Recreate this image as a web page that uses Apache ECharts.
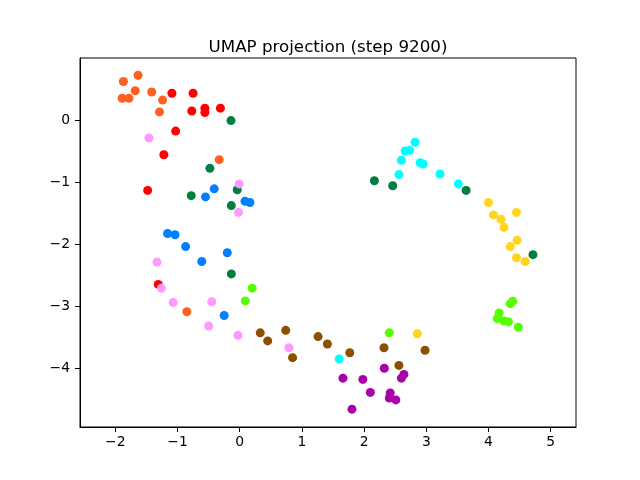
<!DOCTYPE html>
<html style="height: 100%">
<head>
    <meta charset="utf-8">
    <title>UMAP projection</title>
    <script src="https://cdn.jsdelivr.net/npm/echarts@6/dist/echarts.min.js"></script>
    <style>
        body{margin:0;background:#fff;}
        #container{width:640px;height:480px;}
    </style>
</head>
<body>
<div id="container"></div>
<script>
    // point groups, [x, y]
    var orangePts = [[-1.87,0.62],[-1.635,0.72],[-1.68,0.47],[-1.89,0.35],[-1.78,0.35],[-1.415,0.45],[-1.24,0.32],[-1.29,0.13],[-0.33,-0.64],[-0.85,-3.09]];
    var redPts = [[-1.09,0.43],[-0.75,0.43],[-0.77,0.145],[-0.56,0.19],[-0.56,0.12],[-0.31,0.19],[-1.03,-0.18],[-1.22,-0.56],[-1.48,-1.135],[-1.31,-2.65]];
    var cyanPts = [[1.60,-3.85],[2.82,-0.36],[2.66,-0.50],[2.73,-0.49],[2.60,-0.65],[2.90,-0.69],[2.95,-0.71],[2.56,-0.88],[3.22,-0.87],[3.515,-1.03]];
    var yellowPts = [[4.00,-1.33],[4.08,-1.53],[4.20,-1.60],[4.25,-1.73],[4.45,-1.49],[4.46,-1.94],[4.35,-2.04],[4.45,-2.22],[4.59,-2.28],[2.855,-3.445]];
    var bluePts = [[-0.41,-1.11],[-0.55,-1.24],[0.085,-1.31],[0.165,-1.33],[-1.16,-1.83],[-1.04,-1.85],[-0.87,-2.04],[-0.61,-2.28],[-0.20,-2.14],[-0.25,-3.15]];
    var limePts = [[0.20,-2.71],[0.09,-2.915],[2.405,-3.43],[4.39,-2.92],[4.35,-2.96],[4.17,-3.11],[4.14,-3.20],[4.25,-3.24],[4.32,-3.25],[4.48,-3.34]];
    var brownPts = [[0.33,-3.43],[0.45,-3.56],[0.74,-3.39],[0.85,-3.83],[1.26,-3.49],[1.41,-3.61],[1.77,-3.75],[2.32,-3.67],[2.56,-3.955],[2.98,-3.71]];
    var magentaPts = [[1.66,-4.16],[1.805,-4.66],[1.98,-4.18],[2.10,-4.39],[2.325,-4.00],[2.60,-4.16],[2.64,-4.10],[2.42,-4.40],[2.405,-4.48],[2.51,-4.51]];
    var greenPts = [[-0.14,-0.01],[-0.48,-0.78],[-0.78,-1.22],[-0.04,-1.125],[-0.135,-1.38],[-0.135,-2.48],[2.165,-0.98],[2.46,-1.06],[3.64,-1.135],[4.715,-2.17]];
    var pinkPts = [[-1.46,-0.29],[-0.01,-1.03],[-0.02,-1.49],[-1.33,-2.29],[-1.26,-2.71],[-1.07,-2.94],[-0.45,-2.93],[-0.50,-3.32],[-0.03,-3.47],[0.79,-3.67]];
    var xTicks = [-2,-1,0,1,2,3,4,5];
    var yTicks = [-4,-3,-2,-1,0];

    var groups = [
        [orangePts,'#ff6020'],[redPts,'#ff0000'],[cyanPts,'#00ffff'],[yellowPts,'#ffd520'],
        [bluePts,'#0080ff'],[limePts,'#55ff00'],[brownPts,'#8c5000'],[magentaPts,'#aa00aa'],
        [greenPts,'#008040'],[pinkPts,'#ff99ff']
    ];

    function fmt(v){ return String(v).replace('-','\u2212'); }

    var axisCommon = {
        type:'value',
        splitLine:{show:false},
        axisLine:{show:true,onZero:false,lineStyle:{color:'#000',width:1}},
        axisTick:{show:true,inside:false,length:5,lineStyle:{color:'#000',width:1}},
        axisLabel:{color:'#000',fontSize:13.9,fontFamily:'DejaVu Sans',margin:8,formatter:fmt}
    };

    var myChart = echarts.init(document.getElementById('container'));
    var option = {
        animation:false,
        backgroundColor:'#fff',
        title:{
            text:'UMAP projection (step 9200)',
            left:323,top:34,textAlign:'center',
            textStyle:{fontFamily:'DejaVu Sans',fontSize:16.7,fontWeight:'normal',color:'#000'}
        },
        grid:{left:80,right:64,top:58,bottom:53,show:true,borderColor:'#000',borderWidth:1,backgroundColor:'transparent'},
        xAxis:echarts.util.merge({
            min:-2.568,max:5.407,
            axisTick:{customValues:xTicks},
            axisLabel:{customValues:xTicks}
        }, axisCommon),
        yAxis:echarts.util.merge({
            min:-4.947,max:0.998,
            axisTick:{customValues:yTicks},
            axisLabel:{customValues:yTicks,margin:10}
        }, axisCommon),
        series:groups.map(function(g){
            return {type:'scatter',data:g[0],symbolSize:9,itemStyle:{color:g[1],opacity:1}};
        })
    };
    myChart.setOption(option);
</script>
</body>
</html>
